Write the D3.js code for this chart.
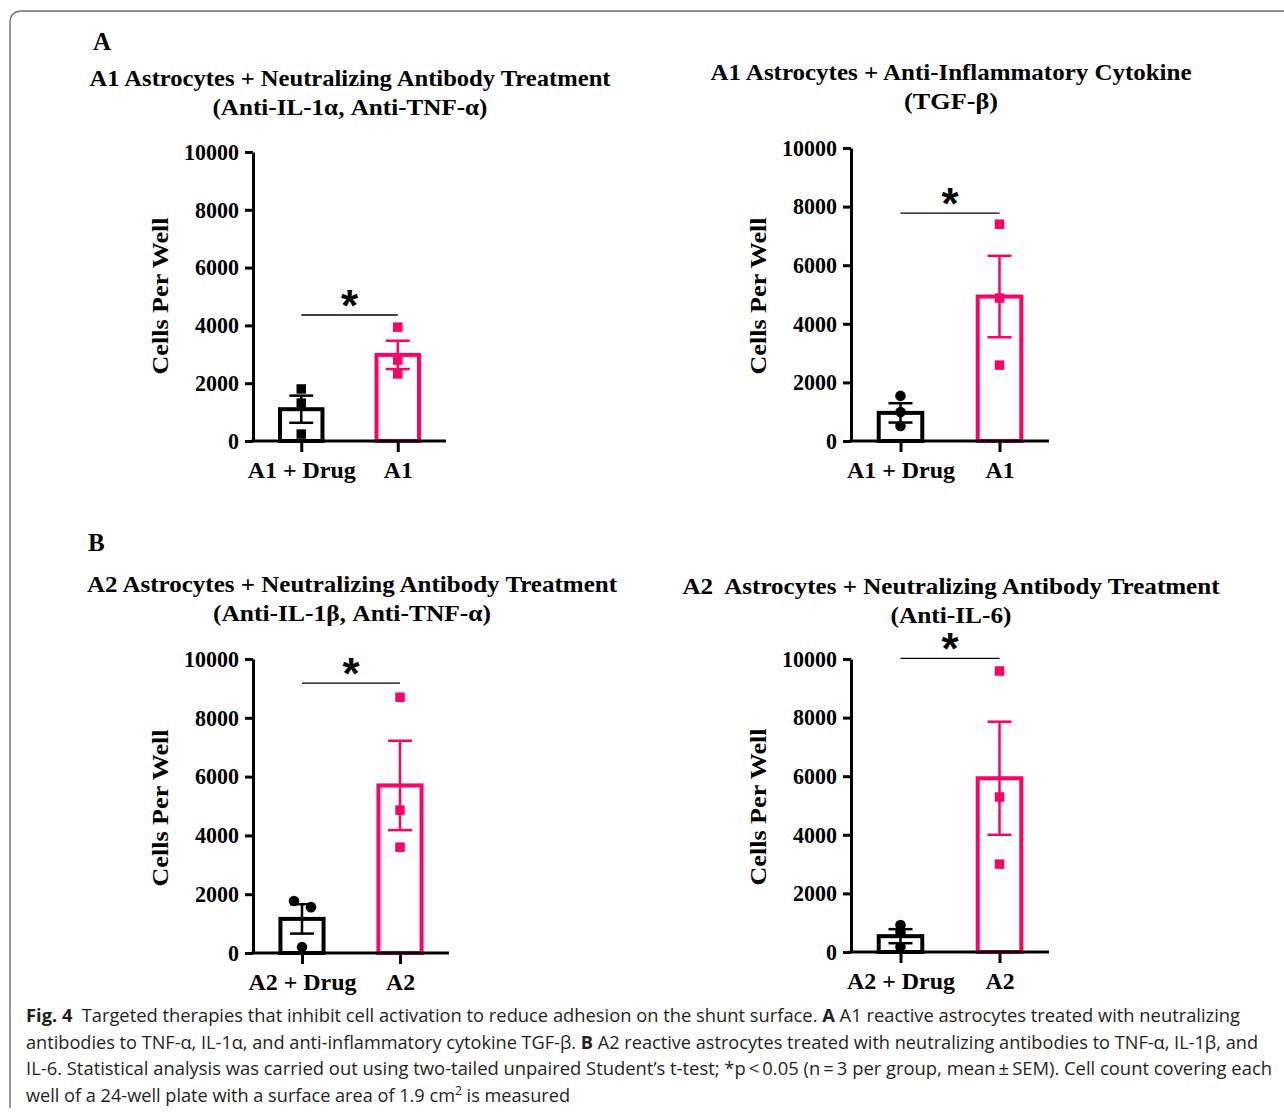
<!DOCTYPE html>
<html>
<head>
<meta charset="utf-8">
<script src="https://cdn.jsdelivr.net/npm/d3@7"></script>
<style>
  body { margin: 0; background: #fff; }
  svg text { fill: #000; }
  .serif { font-family: "Liberation Serif", "Times New Roman", serif; font-weight: bold; }
  .caption { font-family: "Open Sans", "Noto Sans", sans-serif; font-size: 18px; fill: #231f20; }
</style>
</head>
<body>
<svg id="fig" width="1284" height="1113"></svg>
<script>
// ---- data ----
const panelLetters = ['A', 'B']
const titles = [
  ['A1 Astrocytes + Neutralizing Antibody Treatment', '(Anti-IL-1\u03b1, Anti-TNF-\u03b1)'],
  ['A1 Astrocytes + Anti-Inflammatory Cytokine', '(TGF-\u03b2)'],
  ['A2 Astrocytes + Neutralizing Antibody Treatment', '(Anti-IL-1\u03b2, Anti-TNF-\u03b1)'],
  ['A2\u00a0 Astrocytes + Neutralizing Antibody Treatment', '(Anti-IL-6)']
]
const categories = [
  ['A1 + Drug', 'A1'],
  ['A1 + Drug', 'A1'],
  ['A2 + Drug', 'A2'],
  ['A2 + Drug', 'A2']
]
const yTicks = [0, 2000, 4000, 6000, 8000, 10000]
const yLabel = 'Cells Per Well'

// bar heights (mean) and SEM, [drug, untreated]
const means = [[1100, 2980], [960, 4930], [1160, 5700], [540, 5930]]
const sems = [[470, 490], [330, 1390], [500, 1520], [240, 1930]]
// individual wells (n = 3)
const drugPoints = [[1800, 1310, 240], [1540, 990, 510], [1770, 1560, 200], [920, 680, 170]]
const ctrlPoints = [[3940, 2800, 2320], [7400, 4880, 2590], [8700, 4860, 3600], [9590, 5290, 3000]]
const drugShapes = ['square', 'circle', 'circle', 'circle']
// height of the significance bracket
const sigLevel = [4360, 7780, 9180, 10020]

const captionLines = [
  [['Fig. 4', true], ['\u2002Targeted therapies that inhibit cell activation to reduce adhesion on the shunt surface. ', false], ['A', true], [' A1 reactive astrocytes treated with neutralizing', false]],
  [['antibodies to TNF-\u03b1, IL-1\u03b1, and anti-inflammatory cytokine TGF-\u03b2. ', false], ['B', true], [' A2 reactive astrocytes treated with neutralizing antibodies to TNF-\u03b1, IL-1\u03b2, and', false]],
  [['IL-6. Statistical analysis was carried out using two-tailed unpaired Student\u2019s t-test; *p\u2009<\u20090.05 (n\u2009=\u20093 per group, mean\u2009\u00b1\u2009SEM). Cell count covering each', false]],
  [['well of a 24-well plate with a surface area of 1.9 cm', false], ['2', false, 'sup'], [' is measured', false, 'after']]
]

// ---- layout ----
const pink = '#ff0066'
const layout = [
  { x0: 253, x1: 446, yTop: 152, yBot: 441, cx: 350, t1: 86, tw1: 521, tw2: 275, lab: 160 },
  { x0: 851, x1: 1049, yTop: 148, yBot: 441, cx: 951, t1: 80, tw1: 481, tw2: 94, lab: 758 },
  { x0: 253, x1: 449, yTop: 659, yBot: 953, cx: 352, t1: 592, tw1: 530, tw2: 278, lab: 160 },
  { x0: 851, x1: 1049, yTop: 659, yBot: 952, cx: 951, t1: 594, tw1: 537, tw2: 121, lab: 758 }
]

const svg = d3.select('#fig')

// figure frame (open on the right and bottom)
svg.append('path')
  .attr('d', 'M1284,11 L22,11 Q10,11 10,23 L10,1108')
  .attr('fill', 'none')
  .attr('stroke', '#6e6e6e')
  .attr('stroke-width', 1.4)

svg.append('text').attr('class', 'serif').attr('x', 93).attr('y', 50)
  .style('font-size', '25px').text(panelLetters[0])
svg.append('text').attr('class', 'serif').attr('x', 88).attr('y', 551)
  .style('font-size', '25px').text(panelLetters[1])

function drawPanel(i) {
  var L = layout[i]
  var g = svg.append('g').attr('class', 'panel')

  // titles
  g.append('text').attr('class', 'serif')
    .attr('x', L.cx).attr('y', L.t1)
    .attr('text-anchor', 'middle')
    .attr('textLength', L.tw1).attr('lengthAdjust', 'spacingAndGlyphs')
    .style('font-size', '24px')
    .text(titles[i][0])
  g.append('text').attr('class', 'serif')
    .attr('x', L.cx).attr('y', L.t1 + 29)
    .attr('text-anchor', 'middle')
    .attr('textLength', L.tw2).attr('lengthAdjust', 'spacingAndGlyphs')
    .style('font-size', '24px')
    .text(titles[i][1])

  var x = d3.scalePoint()
    .domain(categories[i])
    .range([L.x0, L.x1])
    .padding(0.5)

  var y = d3.scaleLinear()
    .domain([0, 10000])
    .range([L.yBot, L.yTop])

  var barW = x.step() * 0.44
  var colors = ['#000', pink]

  // bars
  g.selectAll('.bar')
    .data(means[i])
    .enter().append('rect')
    .attr('class', 'bar')
    .attr('x', (d, j) => x(categories[i][j]) - barW / 2)
    .attr('y', (d) => y(d))
    .attr('width', barW)
    .attr('height', (d) => y(0) - y(d))
    .attr('fill', '#fff')
    .attr('stroke', (d, j) => colors[j])
    .attr('stroke-width', 4)

  // axes
  var yAxis = g.append('g')
    .attr('transform', 'translate(' + L.x0 + ',0)')
    .call(d3.axisLeft(y).tickValues(yTicks).tickFormat(d3.format('d')).tickSize(8).tickPadding(6).tickSizeOuter(0))
  yAxis.selectAll('path, line').attr('stroke', '#000').attr('stroke-width', 3)
  yAxis.selectAll('text').attr('class', 'serif').style('font-size', '22.5px').attr('fill', '#000')
    .attr('textLength', (d) => String(d).length * 11).attr('lengthAdjust', 'spacingAndGlyphs')

  var xAxis = g.append('g')
    .attr('transform', 'translate(0,' + L.yBot + ')')
    .call(d3.axisBottom(x).tickSize(11).tickSizeOuter(0))
  xAxis.select('.domain').attr('d', 'M' + (L.x0 - 1.5) + ',0H' + L.x1)
  xAxis.selectAll('path, line').attr('stroke', '#000').attr('stroke-width', 3)
  xAxis.selectAll('text').attr('class', 'serif').style('font-size', '24px').attr('fill', '#000')
    .attr('y', 37).attr('dy', 0)
    .attr('textLength', (d) => d.length > 3 ? 108 : 29).attr('lengthAdjust', 'spacingAndGlyphs')

  // y label
  g.append('text').attr('class', 'serif')
    .attr('transform', 'translate(' + L.lab + ',' + (L.yBot - 145) + ') rotate(-90)')
    .attr('y', 8)
    .attr('text-anchor', 'middle')
    .attr('textLength', 157).attr('lengthAdjust', 'spacingAndGlyphs')
    .style('font-size', '24px')
    .text(yLabel)

  // points
  var sets = [drugPoints[i], ctrlPoints[i]]
  sets.forEach((pts, j) => {
    var shape = j === 0 && drugShapes[i] === 'circle' ? d3.symbolCircle : d3.symbolSquare
    var jitter = (i === 2 && j === 0) ? [-8, 9, 0] : [0, 0, 0]
    g.selectAll('.pt' + j)
      .data(pts)
      .enter().append('path')
      .attr('class', 'pt' + j)
      .attr('d', d3.symbol().type(shape).size(shape === d3.symbolCircle ? 88 : 90))
      .attr('transform', (d, k) => 'translate(' + (x(categories[i][j]) + jitter[k]) + ',' + y(d) + ')')
      .attr('fill', colors[j])
  })

  // error bars (mean +/- SEM)
  means[i].forEach((m, j) => {
    var cx = x(categories[i][j])
    var lo = y(m - sems[i][j]), hi = y(m + sems[i][j])
    var eg = g.append('g').attr('stroke', colors[j]).attr('stroke-width', 2.5)
    eg.append('line').attr('x1', cx).attr('x2', cx).attr('y1', lo).attr('y2', hi)
    eg.append('line').attr('x1', cx - 12).attr('x2', cx + 12).attr('y1', lo).attr('y2', lo)
    eg.append('line').attr('x1', cx - 12).attr('x2', cx + 12).attr('y1', hi).attr('y2', hi)
  })

  // significance bracket
  var sy = y(sigLevel[i])
  g.append('line')
    .attr('x1', x(categories[i][0])).attr('x2', x(categories[i][1]))
    .attr('y1', sy).attr('y2', sy)
    .attr('stroke', '#000').attr('stroke-width', 1.3)
  g.append('text')
    .attr('x', (x(categories[i][0]) + x(categories[i][1])) / 2)
    .attr('y', sy + 6)
    .attr('text-anchor', 'middle')
    .style('font-family', '"Liberation Sans", Arial, sans-serif')
    .style('font-weight', 'bold')
    .style('font-size', '44px')
    .text('*')
}

d3.range(4).forEach(drawPanel)

// caption
var capWidths = [1214, 1232, 1246, 544]
captionLines.forEach((line, li) => {
  var t = svg.append('text')
    .attr('class', 'caption')
    .attr('x', 26)
    .attr('y', 1022 + li * 26.5)
    .attr('textLength', capWidths[li])
    .attr('lengthAdjust', 'spacingAndGlyphs')
  line.forEach((seg) => {
    var ts = t.append('tspan').text(seg[0])
    if (seg[1]) ts.style('font-weight', 'bold')
    if (seg[2] === 'sup') ts.attr('dy', -7).style('font-size', '12px')
    if (seg[2] === 'after') ts.attr('dy', 7)
  })
})
</script>
</body>
</html>
